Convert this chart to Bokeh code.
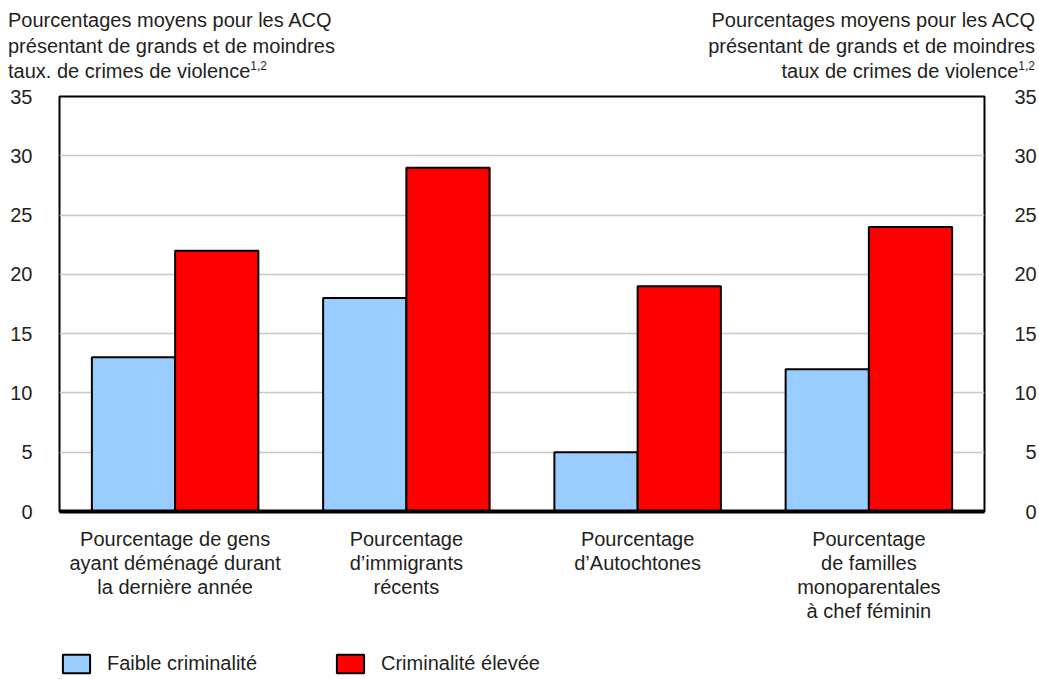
from bokeh.plotting import figure
from bokeh.models import (Range1d, LinearAxis, SingleIntervalTicker, FixedTicker, Div,
                          Legend, LegendItem, CustomJSTickFormatter, ColumnDataSource)
from bokeh.layouts import column, row
from bokeh.transform import dodge
from bokeh.embed import file_html
from bokeh.resources import INLINE

# ---- data ----
categories = [
    "Pourcentage de gens\nayant déménagé durant\nla dernière année",
    "Pourcentage\nd’immigrants\nrécents",
    "Pourcentage\nd’Autochtones",
    "Pourcentage\nde familles\nmonoparentales\nà chef féminin",
]
faible = [13, 18, 5, 12]
elevee = [22, 29, 19, 24]
series_names = ["Faible criminalité", "Criminalité élevée"]
y_interval = 5
y_max = 35
left_title = ["Pourcentages moyens pour les ACQ",
              "présentant de grands et de moindres",
              "taux. de crimes de violence"]
right_title = ["Pourcentages moyens pour les ACQ",
               "présentant de grands et de moindres",
               "taux de crimes de violence"]
footnote_mark = "1,2"

# ---- style ----
FONT = "Liberation Sans"
TXT = "#231f20"
BLUE = "#99ccff"
RED = "#ff0000"
FS = "20px"

W = 1039
TITLE_H = 84
LEG_H = 49
H = 679 - TITLE_H - LEG_H
ML, MR, MT, MB = 59, 55, 12, 119

n = len(categories)
centers = [i + 0.5 for i in range(n)]

p = figure(width=W, height=H,
           x_range=Range1d(0, n), y_range=Range1d(0, y_max),
           output_backend="svg", toolbar_location=None,
           min_border_left=ML, min_border_right=MR,
           min_border_top=MT, min_border_bottom=MB)

source = ColumnDataSource(dict(x=centers, cat=categories, faible=faible, elevee=elevee))
p.vbar(x=dodge("x", -0.18), top="faible", width=0.36,
       source=source, fill_color=BLUE, line_color="black", line_width=2)
p.vbar(x=dodge("x", 0.18), top="elevee", width=0.36,
       source=source, fill_color=RED, line_color="black", line_width=2)

p.outline_line_color = "black"
p.outline_line_width = 2
p.background_fill_color = "white"
p.border_fill_color = "white"

def style_axis(ax, standoff):
    ax.major_tick_line_color = None
    ax.minor_tick_line_color = None
    ax.major_tick_out = 0
    ax.major_tick_in = 0
    ax.minor_tick_out = 0
    ax.minor_tick_in = 0
    ax.major_label_text_font = FONT
    ax.major_label_text_font_size = FS
    ax.major_label_text_color = TXT
    ax.major_label_standoff = standoff

# x axis
xa = p.xaxis[0]
xa.ticker = FixedTicker(ticks=centers)
xa.major_label_overrides = {c: lab for c, lab in zip(centers, categories)}
xa.axis_line_color = "black"
xa.axis_line_width = 4
style_axis(xa, 16)
xa.major_label_text_line_height = 1.1

# left axis
ticker = SingleIntervalTicker(interval=y_interval)
ya = p.yaxis[0]
ya.ticker = ticker
ya.axis_line_color = None
style_axis(ya, 27)

# right axis
ra = LinearAxis(ticker=SingleIntervalTicker(interval=y_interval),
                formatter=CustomJSTickFormatter(code='return (tick < 10 ? "\\u2007" : "") + tick;'))
ra.axis_line_color = None
style_axis(ra, 30)
p.add_layout(ra, "right")

p.xgrid.grid_line_color = None
p.ygrid.ticker = ticker
p.ygrid.grid_line_color = "#c8c8c8"
p.ygrid.grid_line_width = 1.5

# legend strip: swatch renderers hold one point each, placed far outside the visible range
lp = figure(width=W, height=LEG_H, x_range=Range1d(0, 1), y_range=Range1d(0, 1),
            x_axis_type=None, y_axis_type=None, min_border=0,
            output_backend="svg", toolbar_location=None)
lp.outline_line_color = None
lp.grid.visible = False
sw_src = ColumnDataSource(dict(x=[-10.0], top=[-10.0], bottom=[-20.0]))
sw1 = lp.vbar(x="x", top="top", bottom="bottom", width=0.5, source=sw_src,
              fill_color=BLUE, line_color="black", line_width=2)
sw2 = lp.vbar(x="x", top="top", bottom="bottom", width=0.5, source=sw_src,
              fill_color=RED, line_color="black", line_width=2)
leg = Legend(items=[LegendItem(label=series_names[0], renderers=[sw1]),
                    LegendItem(label=series_names[1], renderers=[sw2])],
             location=(0, 4), orientation="horizontal",
             glyph_width=34, glyph_height=23, label_standoff=14,
             label_width=226, spacing=0, margin=0, padding=0,
             border_line_color=None, background_fill_alpha=0,
             label_text_font=FONT, label_text_font_size=FS,
             label_text_color=TXT, label_height=23)
lp.add_layout(leg)

# titles
sup = ('<span style="font-size:12px; vertical-align:8px; line-height:0">%s</span>' % footnote_mark)
div_style = {"font-family": FONT, "font-size": FS, "line-height": "25.5px",
             "color": TXT, "white-space": "nowrap"}
left_div = Div(text="<br>".join(left_title) + sup, width=511, height=TITLE_H - 8,
               margin=(8, 0, 0, 8), styles=dict(div_style, **{"text-align": "left"}))
right_div = Div(text="<br>".join(right_title) + sup, width=516, height=TITLE_H - 8,
                margin=(8, 4, 0, 0), styles=dict(div_style, **{"text-align": "right"}))

layout = column(row(left_div, right_div, spacing=0), p, lp, spacing=0)

open("out.html", "w").write(file_html(layout, INLINE))
